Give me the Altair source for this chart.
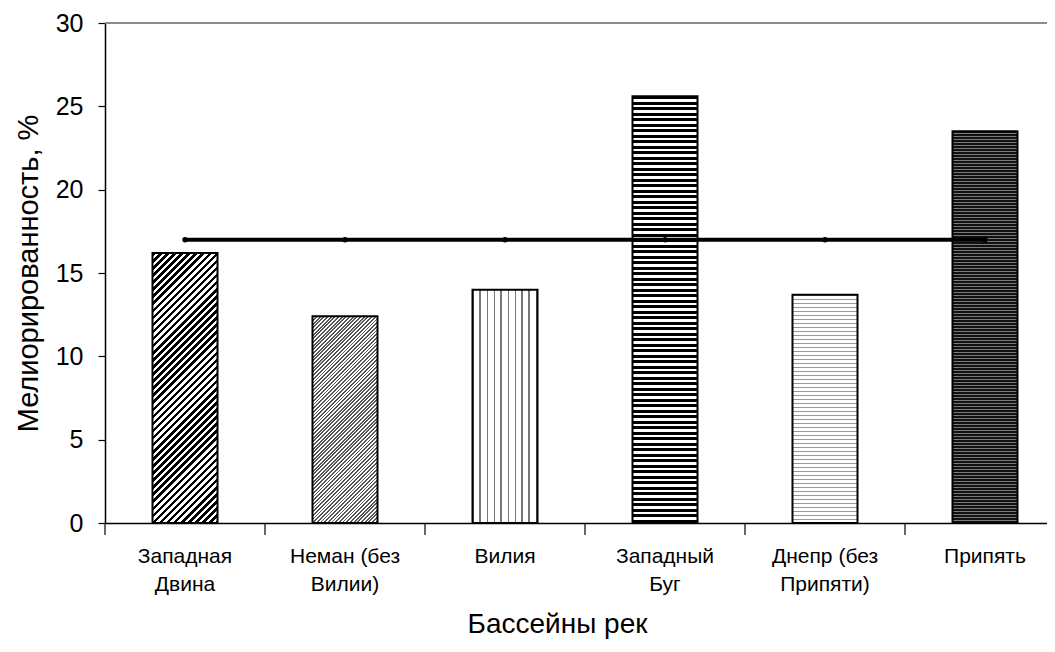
import altair as alt
import pandas as pd
import math

# ---- data ----
categories = ["Западная\nДвина", "Неман (без\nВилии)", "Вилия",
              "Западный\nБуг", "Днепр (без\nПрипяти)", "Припять"]
values = [16.2, 12.4, 14.0, 25.6, 13.7, 23.5]
average = [17.0, 17.0, 17.0, 17.0, 17.0, 17.0]
y_ticks = [0, 5, 10, 15, 20, 25, 30]

df = pd.DataFrame({"cat": categories, "value": values, "avg": average})

# ---- layout / style ----
PLOT_H = 500
BAND_RANGE = 960
BAR_W = 65
Y_MAX = 30
FONT = "Liberation Sans"

# pattern styles per bar: (kind, period px, dark fraction, dark colour, light colour)
patterns = [
    ("diag", 5.0, 0.5, "#000000", "#ffffff"),
    ("diag", 2.6, 0.5, "#555555", "#ffffff"),
    ("vert", 7.0, 0.22, "#777777", "#ffffff"),
    ("horiz", 5.5, 0.55, "#000000", "#ffffff"),
    ("horiz", 4.0, 0.35, "#999999", "#ffffff"),
    ("horiz", 3.0, 0.6, "#111111", "#7a7a7a"),
]


def stripe_gradient(kind, period, frac, dark, light, w, h):
    if kind == "horiz":
        g = dict(x1=0, y1=0, x2=0, y2=1)
        length = h
    elif kind == "vert":
        g = dict(x1=0, y1=0, x2=1, y2=0)
        length = w
    else:
        a, b = 1.0 / h, 1.0 / w
        s = (a + b) / (a * a + b * b)
        g = dict(x1=0, y1=0, x2=s * a, y2=s * b)
        length = (w + h) / math.sqrt(2)
    p = period / length
    stops = []
    t = 0.0
    while t < 1.0:
        d_end = min(t + p * frac, 1.0)
        nxt = min(t + p, 1.0)
        stops += [
            {"offset": round(t, 6), "color": dark},
            {"offset": round(d_end, 6), "color": dark},
            {"offset": round(d_end, 6), "color": light},
            {"offset": round(nxt, 6), "color": light},
        ]
        t = nxt
    g.update({"gradient": "linear", "stops": stops})
    return g


x_scale = alt.Scale(domain=categories, range=[0, BAND_RANGE], paddingInner=0, paddingOuter=0)
y_scale = alt.Scale(domain=[0, Y_MAX], nice=False)

x_axis = alt.Axis(
    title="Бассейны рек",
    labelAngle=0,
    labelExpr="split(datum.label, '\\n')",
    labelLineHeight=28,
    labelPadding=22,
    labelBaseline="top",
    labelFontSize=21,
    titleFontSize=28,
    titleX=452,
    ticks=False,
    titlePadding=16,
)
y_axis = alt.Axis(
    values=y_ticks, grid=False,
    title="Мелиорированность, %",
    titleFontSize=29,
    titlePadding=12, labelPadding=15, tickSize=7,
    labelFontSize=25,
)

X = lambda **kw: alt.X("cat:N", scale=x_scale, sort=categories, axis=x_axis, **kw)

base = alt.Chart(df)
layers = []

# bars with stripe fills
for cat, val, pat in zip(categories, values, patterns):
    h = val / Y_MAX * PLOT_H
    grad = stripe_gradient(*pat, BAR_W, h)
    layers.append(
        base.transform_filter(alt.datum.cat == cat)
        .mark_bar(width=BAR_W, fill=grad, stroke="black", strokeWidth=2)
        .encode(x=X(), y=alt.Y("value:Q", scale=y_scale, axis=y_axis))
    )

# average line
layers.append(
    base.mark_line(color="black", strokeWidth=4).encode(
        x=X(), y=alt.Y("avg:Q", scale=y_scale, axis=y_axis),
    )
)
layers.append(
    base.mark_circle(color="black", size=30, opacity=1).encode(
        x=X(), y=alt.Y("avg:Q", scale=y_scale, axis=y_axis),
    )
)

# category separators on x axis
layers.append(
    base.mark_rule(color="black", strokeWidth=1.2).encode(
        x=X(bandPosition=0),
        y=alt.value(PLOT_H), y2=alt.value(PLOT_H + 12),
    )
)

# top border (grey line at 30)
layers.append(
    base.mark_rule(color="#8c8c8c", strokeWidth=1.5).encode(
        y=alt.value(0), x=alt.value(0), x2=alt.value(BAND_RANGE),
    )
)

chart = (
    alt.layer(*layers)
    .properties(
        width=942, height=PLOT_H,
        autosize=alt.AutoSizeParams(type="none"),
        padding={"left": 97, "top": 15, "right": 0, "bottom": 121},
    )
    .configure_view(stroke=None)
    .configure(background="white")
    .configure_axis(
        labelFont=FONT, labelColor="black",
        titleFont=FONT, titleFontWeight="normal", titleColor="black",
        domainColor="black", domainWidth=1.5, tickColor="black", tickWidth=1.2,
    )
)

chart.save("out.html", embed_options={"renderer": "svg", "actions": False})
